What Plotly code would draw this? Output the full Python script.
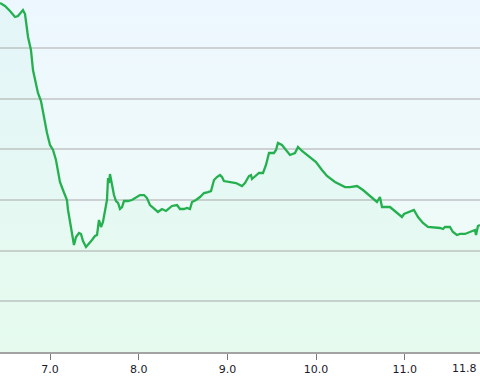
import plotly.graph_objects as go
import urllib.parse

x_vals = [6.436, 6.492, 6.549, 6.605, 6.639, 6.673, 6.695, 6.718, 6.752, 6.785,
          6.808, 6.842, 6.864, 6.898, 6.921, 6.943, 6.966, 7.000, 7.034, 7.067,
          7.090, 7.112, 7.146, 7.191, 7.203, 7.225, 7.248, 7.270, 7.293, 7.327,
          7.349, 7.372, 7.406, 7.439, 7.473, 7.507, 7.530, 7.552, 7.575, 7.597,
          7.631, 7.642, 7.654, 7.665, 7.676, 7.699, 7.721, 7.744, 7.767, 7.789,
          7.812, 7.834, 7.879, 7.924, 7.981, 8.014, 8.060, 8.093, 8.127, 8.172,
          8.217, 8.262, 8.308, 8.375, 8.432, 8.465, 8.510, 8.544, 8.578, 8.601,
          8.646, 8.691, 8.736, 8.781, 8.815, 8.849, 8.882, 8.916, 8.939, 8.961,
          9.029, 9.097, 9.164, 9.198, 9.243, 9.266, 9.277, 9.333, 9.356, 9.401,
          9.435, 9.469, 9.525, 9.548, 9.570, 9.615, 9.672, 9.705, 9.762, 9.796,
          9.841, 9.931, 9.999, 10.066, 10.123, 10.213, 10.326, 10.382, 10.461, 10.529,
          10.630, 10.686, 10.720, 10.743, 10.833, 10.912, 10.968, 10.991, 11.058, 11.103,
          11.149, 11.205, 11.261, 11.397, 11.430, 11.453, 11.509, 11.543, 11.588, 11.622,
          11.678, 11.735, 11.791, 11.803, 11.825, 11.848]

y_vals = [6.884, 6.825, 6.726, 6.608, 6.627, 6.687, 6.746, 6.667, 6.213, 5.957,
          5.562, 5.286, 5.109, 4.951, 4.714, 4.477, 4.320, 4.083, 3.984, 3.787,
          3.531, 3.353, 3.195, 2.998, 2.801, 2.545, 2.308, 2.111, 2.268, 2.347,
          2.328, 2.189, 2.071, 2.130, 2.209, 2.288, 2.308, 2.604, 2.465, 2.564,
          2.939, 2.998, 3.432, 3.333, 3.511, 3.294, 3.096, 2.978, 2.939, 2.821,
          2.860, 2.978, 2.978, 2.998, 3.057, 3.096, 3.096, 3.037, 2.899, 2.821,
          2.762, 2.821, 2.782, 2.880, 2.899, 2.821, 2.821, 2.840, 2.821, 2.959,
          2.998, 3.057, 3.136, 3.155, 3.175, 3.392, 3.451, 3.490, 3.451, 3.372,
          3.353, 3.333, 3.274, 3.333, 3.471, 3.490, 3.412, 3.490, 3.531, 3.531,
          3.688, 3.925, 3.925, 3.984, 4.122, 4.083, 3.965, 3.886, 3.925, 4.043,
          3.965, 3.846, 3.748, 3.590, 3.471, 3.353, 3.254, 3.254, 3.274, 3.195,
          3.037, 2.959, 3.057, 2.860, 2.860, 2.742, 2.663, 2.722, 2.762, 2.801,
          2.663, 2.545, 2.466, 2.446, 2.426, 2.466, 2.466, 2.367, 2.308, 2.328,
          2.328, 2.367, 2.406, 2.308, 2.485, 2.505]

tick_vals = [7, 8, 9, 10, 11]
tick_text = ["7.0", "8.0", "9.0", "10.0", "11.0"]
end_label = "11.8"

x_min, x_max = x_vals[0], x_vals[-1]
y_min, y_max = 0, 6.943

svg = ('<svg xmlns="http://www.w3.org/2000/svg" width="100" height="100" '
       'preserveAspectRatio="none" viewBox="0 0 100 100">'
       '<defs><linearGradient id="g" x1="0" y1="0" x2="0" y2="1">'
       '<stop offset="0" stop-color="#edf7ff"/>'
       '<stop offset="1" stop-color="#effdf4"/>'
       '</linearGradient></defs>'
       '<rect width="100" height="100" fill="url(#g)"/></svg>')
bg_src = "data:image/svg+xml;charset=utf-8," + urllib.parse.quote(svg)

fig = go.Figure()

fig.add_trace(go.Scatter(
    x=x_vals, y=y_vals, mode="lines",
    line=dict(color="#25b04f", width=2.3),
    fill="tozeroy", fillcolor="rgba(40,220,120,0.045)",
    showlegend=False,
))

fig.update_layout(
    width=480, height=386,
    margin=dict(l=0, r=0, t=0, b=34),
    paper_bgcolor="white", plot_bgcolor="rgba(0,0,0,0)",
    font=dict(family="DejaVu Sans", size=11, color="#1a1a2a"),
    images=[dict(source=bg_src, xref="paper", yref="paper", x=0, y=1,
                 sizex=1, sizey=1, sizing="stretch", xanchor="left",
                 yanchor="top", layer="below")],
    xaxis=dict(range=[x_min, x_max], tickvals=tick_vals, ticktext=tick_text,
               showgrid=False, zeroline=False, showline=True, linecolor="#a3a3a3",
               linewidth=2, ticks="outside", ticklen=6, tickcolor="#7a7a7a",
               tickwidth=1),
    yaxis=dict(range=[y_min, y_max], dtick=1, showticklabels=False,
               showgrid=True, gridcolor="#cdd1d3", gridwidth=1.5,
               zeroline=False, showline=False),
    annotations=[dict(text=end_label, x=1, xref="paper", xanchor="right",
                      xshift=-1, y=0, yref="paper",
                      yanchor="top", yshift=-8, showarrow=False,
                      font=dict(family="DejaVu Sans", size=11, color="#1a1a2a"))],
)

fig.write_html("out.html")
